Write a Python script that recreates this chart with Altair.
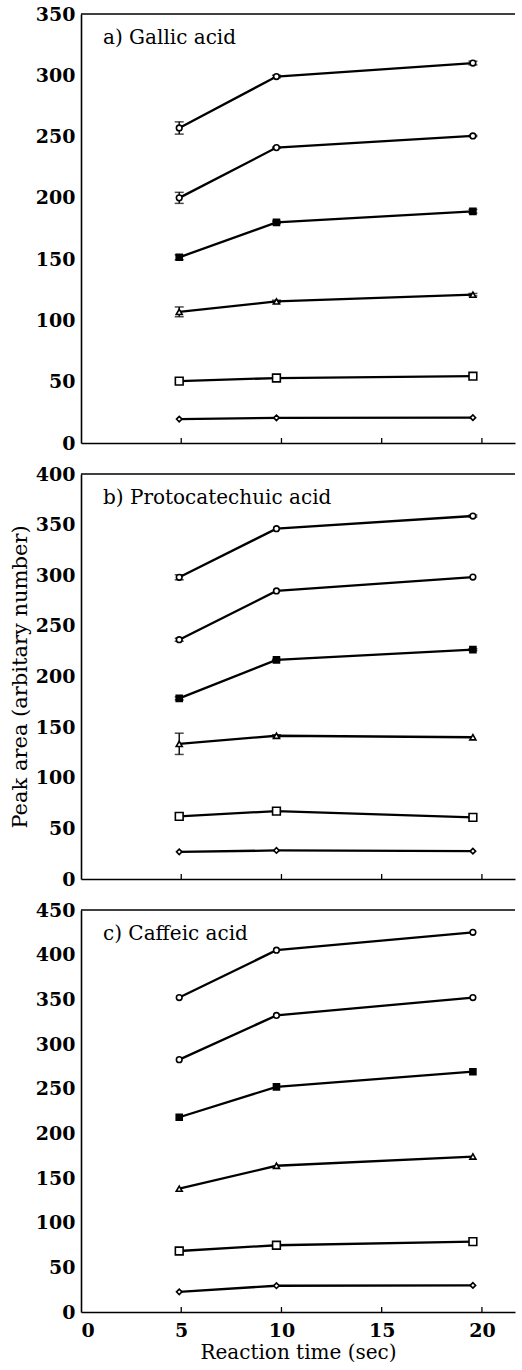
import altair as alt
import pandas as pd

# ---------------- data ----------------
times = [4.9, 9.75, 19.55]
series = ["S1", "S2", "S3", "S4", "S5", "S6"]
panel_titles = ["a) Gallic acid", "b) Protocatechuic acid", "c) Caffeic acid"]
y_max = [350, 400, 450]
x_tick_values = [0, 5, 10, 15, 20]

gallic_s1 = [257, 299, 310]
gallic_s2 = [200, 241, 250.5]
gallic_s3 = [151.5, 180, 189]
gallic_s4 = [107, 115.5, 121]
gallic_s5 = [50.5, 53, 54.5]
gallic_s6 = [19.5, 20.5, 20.7]

proto_s1 = [298, 346, 358.5]
proto_s2 = [236.3, 284.5, 298.2]
proto_s3 = [178.4, 216.4, 226.5]
proto_s4 = [133.5, 141.5, 140]
proto_s5 = [61.9, 67.1, 60.9]
proto_s6 = [26.8, 28.2, 27.5]

caffeic_s1 = [352, 405, 425]
caffeic_s2 = [282.5, 332, 352]
caffeic_s3 = [218, 252, 269]
caffeic_s4 = [138, 163.7, 174]
caffeic_s5 = [68.3, 74.7, 78.8]
caffeic_s6 = [22.6, 29.4, 29.8]

# standard deviations (0 = not visible)
gallic_err = [[5, 1, 1.5], [4.5, 0.5, 0.5], [2, 1, 1.5], [4, 1, 1], [0, 0, 0], [0, 0, 0]]
proto_err = [[2.5, 0, 1], [1.5, 0, 0], [1.5, 0.5, 1], [10.5, 1, 0], [0, 0, 0], [0, 0, 0]]
caffeic_err = [[0, 0, 0], [0, 0, 0], [0, 0, 0], [0, 0, 0], [0, 0, 0], [0, 0, 0]]

marker_shape = ["circle", "circle", "square", "triangle-up", "square", "diamond"]
marker_fill = ["white", "white", "black", "white", "white", "white"]
marker_size = [32, 32, 36, 36, 60, 30]

panels_values = [
    [gallic_s1, gallic_s2, gallic_s3, gallic_s4, gallic_s5, gallic_s6],
    [proto_s1, proto_s2, proto_s3, proto_s4, proto_s5, proto_s6],
    [caffeic_s1, caffeic_s2, caffeic_s3, caffeic_s4, caffeic_s5, caffeic_s6],
]
panels_err = [gallic_err, proto_err, caffeic_err]

FONT = "DejaVu Serif"
W = 434
heights = [429, 405, 402]
X_DOMAIN = [0, 21.65]


def make_panel(i):
    rows = []
    for si, s in enumerate(series):
        for ti, t in enumerate(times):
            v = panels_values[i][si][ti]
            e = panels_err[i][si][ti]
            rows.append({
                "series": s, "time": t, "value": v,
                "lo": v - e, "hi": v + e, "err": e,
                "shape": marker_shape[si], "fill": marker_fill[si], "size": marker_size[si],
            })
    df = pd.DataFrame(rows)
    h = heights[i]
    last = i == 2

    x_axis = alt.Axis(
        values=x_tick_values, labels=last, ticks=False, grid=False,
        domainColor="black", domainWidth=1.6,
        labelFont=FONT, labelFontWeight="bold", labelFontSize=19, labelColor="black",
        labelPadding=9,
        title="Reaction time (sec)" if last else None,
        titleFont=FONT, titleFontWeight="normal", titleFontSize=20, titleColor="black",
        titlePadding=2,
    )
    y_axis = alt.Axis(
        values=list(range(0, y_max[i] + 1, 50)), ticks=False, grid=False,
        domainColor="black", domainWidth=1.6,
        labelFont=FONT, labelFontWeight="bold", labelFontSize=19, labelColor="black",
        labelPadding=6,
        title="Peak area (arbitary number)" if i == 1 else None,
        titleFont=FONT, titleFontWeight="normal", titleFontSize=21, titleColor="black",
        titlePadding=5,
    )
    x = alt.X("time:Q", scale=alt.Scale(domain=X_DOMAIN, nice=False, zero=True), axis=x_axis)
    y = alt.Y("value:Q", scale=alt.Scale(domain=[0, y_max[i]], nice=False), axis=y_axis)

    base = alt.Chart(df)
    line = base.mark_line(color="black", strokeWidth=2.3).encode(x=x, y=y, detail="series:N")
    errdf = df[df["err"] > 0]
    err_rule = alt.Chart(errdf).mark_rule(color="black", strokeWidth=1.4).encode(
        x="time:Q", y="lo:Q", y2="hi:Q")
    cap_lo = alt.Chart(errdf).mark_tick(color="black", orient="horizontal", size=9, thickness=1.5).encode(
        x="time:Q", y="lo:Q")
    cap_hi = alt.Chart(errdf).mark_tick(color="black", orient="horizontal", size=9, thickness=1.5).encode(
        x="time:Q", y="hi:Q")
    pts = base.mark_point(filled=True, stroke="black", strokeWidth=1.6, opacity=1).encode(
        x="time:Q", y="value:Q",
        shape=alt.Shape("shape:N", scale=None),
        fill=alt.Fill("fill:N", scale=None),
        size=alt.Size("size:Q", scale=None),
    )
    tick_df = pd.DataFrame({"tick": x_tick_values[1:]})
    inner_ticks = alt.Chart(tick_df).mark_rule(color="black", strokeWidth=1.3).encode(
        x="tick:Q", y=alt.value(h), y2=alt.value(h - 5))
    one = pd.DataFrame({"label": [panel_titles[i]]})
    top_rule = alt.Chart(one).mark_rule(color="black", strokeWidth=1.6).encode(
        x=alt.value(0), x2=alt.value(W), y=alt.value(0))
    label = alt.Chart(one).mark_text(
        align="left", baseline="alphabetic", font=FONT, fontSize=20, color="black"
    ).encode(x=alt.value(22), y=alt.value(30), text="label:N")

    return alt.layer(line, err_rule, cap_lo, cap_hi, pts, inner_ticks, top_rule, label).properties(
        width=W, height=h)


chart = alt.vconcat(
    make_panel(0), make_panel(1), make_panel(2), spacing=31, bounds="flush"
).properties(
    padding={"left": 9, "top": 5, "right": 0, "bottom": 0}
).configure(background="white").configure_view(stroke=None)

chart.save("out.html", embed_options={"renderer": "svg", "actions": False})
